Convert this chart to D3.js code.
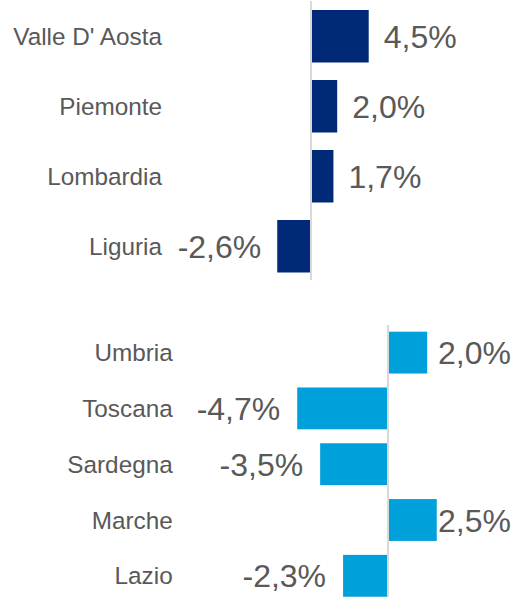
<!DOCTYPE html>
<html>
<head>
<meta charset="utf-8">
<script src="https://cdn.jsdelivr.net/npm/d3@7"></script>
<style>
  html, body { margin: 0; padding: 0; background: #fff; }
  text { font-family: "Liberation Sans", Arial, sans-serif; }
</style>
</head>
<body>
<div id="chart"></div>
<script>
const width = 516, height = 597;

// top panel (north-west)
const northRegions = ["Valle D' Aosta", "Piemonte", "Lombardia", "Liguria"];
const northValues = [4.5, 2.0, 1.7, -2.6];

// bottom panel (centre)
const centreRegions = ["Umbria", "Toscana", "Sardegna", "Marche", "Lazio"];
const centreValues = [2.0, -4.7, -3.5, 2.5, -2.3];

const fmt = v => d3.format(".1f")(v).replace("\u2212", "-").replace(".", ",") + "%";

const svg = d3.select("#chart")
    .append("svg")
    .attr("width", width)
    .attr("height", height);

function panel(cats, vals, opt) {
    const data = cats.map((c, i) => ({ cat: c, val: vals[i] }));

    const x = d3.scaleLinear()
        .domain([-5, 5])
        .range([opt.zero - 5 * opt.perUnit, opt.zero + 5 * opt.perUnit]);

    const y = d3.scaleBand()
        .domain(cats)
        .range(opt.yRange)
        .paddingInner(0.25)
        .paddingOuter(0.125);

    const g = svg.append("g");

    g.selectAll("rect")
        .data(data)
        .enter().append("rect")
        .attr("x", d => d.val >= 0 ? x(0) + 1 : x(d.val) - 1)
        .attr("y", d => y(d.cat))
        .attr("width", d => Math.abs(x(d.val) - x(0)))
        .attr("height", y.bandwidth())
        .attr("fill", opt.color);

    g.append("line")
        .attr("x1", x(0)).attr("x2", x(0))
        .attr("y1", opt.lineY[0]).attr("y2", opt.lineY[1])
        .attr("stroke", "#d9d9d9")
        .attr("stroke-width", 2);

    g.selectAll(".cat")
        .data(data)
        .enter().append("text")
        .attr("class", "cat")
        .attr("x", opt.labelX)
        .attr("y", d => y(d.cat) + y.bandwidth() / 2)
        .attr("dy", "0.35em")
        .attr("text-anchor", "end")
        .attr("font-size", 24.3)
        .attr("fill", "#595959")
        .text(d => d.cat);

    g.selectAll(".val")
        .data(data)
        .enter().append("text")
        .attr("class", "val")
        .attr("y", d => y(d.cat) + y.bandwidth() / 2)
        .attr("dy", "0.36em")
        .attr("font-size", 32)
        .attr("fill", "#595959")
        .text(d => fmt(d.val))
        .each(function(d) {
            const t = d3.select(this);
            if (d.val >= 0) {
                const w = this.getComputedTextLength();
                const xs = Math.min(x(d.val) + 1 + opt.gapPos, opt.maxRight - w);
                t.attr("x", xs).attr("text-anchor", "start");
            } else {
                t.attr("x", x(d.val) - 1 - opt.gapNeg).attr("text-anchor", "end");
            }
        });
}

panel(northRegions, northValues, {
    zero: 311, perUnit: 12.6, yRange: [1.25, 281.25], lineY: [1, 280],
    color: "#002a77", labelX: 162, gapPos: 15, gapNeg: 16, maxRight: 511
});

panel(centreRegions, centreValues, {
    zero: 388, perUnit: 19.1, yRange: [324.7, 603.7], lineY: [325, 597],
    color: "#00a0da", labelX: 172.7, gapPos: 11, gapNeg: 17, maxRight: 511
});
</script>
</body>
</html>
